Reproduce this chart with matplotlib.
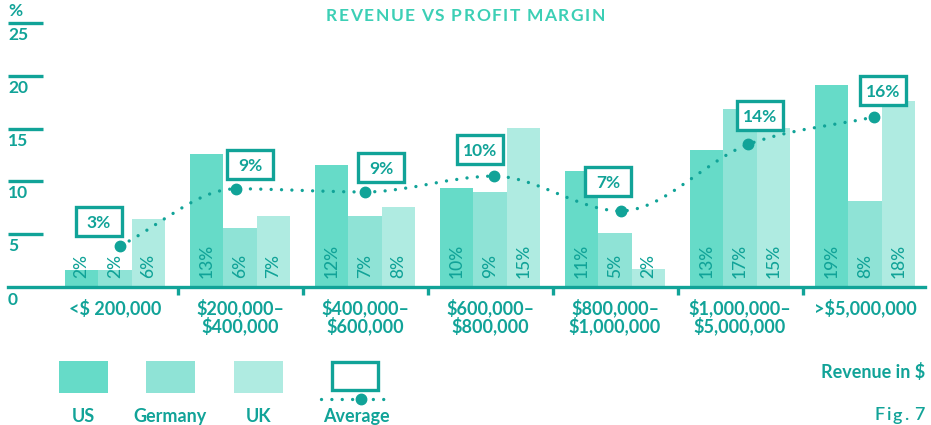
import matplotlib
matplotlib.use("Agg")
import matplotlib.pyplot as plt
from matplotlib.patches import Rectangle, PathPatch
from matplotlib.path import Path
import matplotlib.transforms as mtransforms

plt.rcParams['font.family'] = ['Lato', 'DejaVu Sans']

# data
groups = ['<$ 200,000', '$200,000–\n$400,000', '$400,000–\n$600,000',
          '$600,000–\n$800,000', '$800,000–\n$1,000,000',
          '$1,000,000–\n$5,000,000', '>$5,000,000']
us = [1.6, 12.6, 11.6, 9.4, 11.0, 13.0, 19.1]
germany = [1.6, 5.6, 6.7, 9.0, 5.1, 16.9, 8.1]
uk = [6.4, 6.7, 7.6, 15.1, 1.7, 15.1, 17.6]
us_lbl = [2, 13, 12, 10, 11, 13, 19]
germany_lbl = [2, 6, 7, 9, 5, 17, 8]
uk_lbl = [6, 7, 8, 15, 2, 15, 18]
avg = [3.9, 9.3, 9.0, 10.5, 7.2, 13.5, 16.1]
avg_lbl = [3, 9, 9, 10, 7, 14, 16]
yticks = [5, 10, 15, 20, 25]

# layout tweaks (pixels)
avg_shift = [5, -4, 0, 4, 6, 8, 9]
box_dx = [-21, 14, 16, -14, -13, 12, 9]
box_dy = [24, 24.5, 24.5, 26.5, 29, 29, 26.5]

TEAL = '#11A398'
TITLE = '#3CCFB5'
C_US, C_DE, C_UK = '#66DBC8', '#8FE3D6', '#AFEBE1'

W, H = 931, 425
fig = plt.figure(figsize=(W / 100, H / 100), dpi=100)
ax = fig.add_axes([8 / W, 1 - 287 / H, 917 / W, 264 / H])
ax.set_xlim(-0.856, 6.48)
ax.set_ylim(0, 25)
PX = 125.0      # pixels per x unit
PY = 264 / 25   # pixels per y unit

bw = 0.268
x = list(range(len(groups)))
for vals, lbls, col, off in [(us, us_lbl, C_US, -bw), (germany, germany_lbl, C_DE, 0),
                             (uk, uk_lbl, C_UK, bw)]:
    ax.bar([i + off for i in x], vals, width=bw, color=col, zorder=2)
    for i, (v, l) in enumerate(zip(vals, lbls)):
        ax.text(i + off, 0.85, f'{l}%', rotation=90, ha='center', va='bottom',
                color=TEAL, fontsize=12.5, fontweight='medium', zorder=5)

# smooth dotted average line (monotone cubic drawn as bezier path)
pts = [(i + avg_shift[i] / PX, a) for i, a in enumerate(avg)]
n = len(pts)
sec = [(pts[i + 1][1] - pts[i][1]) / (pts[i + 1][0] - pts[i][0]) for i in range(n - 1)]
tang = [sec[0]]
for i in range(1, n - 1):
    if sec[i - 1] * sec[i] <= 0:
        tang.append(0.0)
    else:
        tang.append((sec[i - 1] + sec[i]) / 2)
tang.append(sec[-1])
verts = [pts[0]]
codes = [Path.MOVETO]
for i in range(n - 1):
    (x0, y0), (x1, y1) = pts[i], pts[i + 1]
    d = (x1 - x0) / 3
    verts += [(x0 + d, y0 + tang[i] * d), (x1 - d, y1 - tang[i + 1] * d), (x1, y1)]
    codes += [Path.CURVE4] * 3
ax.add_patch(PathPatch(Path(verts, codes), fill=False, edgecolor=TEAL, lw=2.4,
                       linestyle=(0, (0.01, 3.1)), capstyle='round', zorder=3))
ax.plot([p[0] for p in pts], avg, 'o', color=TEAL, ms=7.5, zorder=4)

# value boxes
bwid, bhei = 46 / PX, 29 / PY
for i, (p, l) in enumerate(zip(pts, avg_lbl)):
    cx = p[0] + box_dx[i] / PX
    cy = p[1] + box_dy[i] / PY
    ax.add_patch(Rectangle((cx - bwid / 2, cy - bhei / 2), bwid, bhei, facecolor='white',
                           edgecolor=TEAL, lw=2.4, zorder=6))
    ax.text(cx, cy, f'{l}%', ha='center', va='center_baseline', color=TEAL,
            fontsize=12.5, fontweight='bold', zorder=7)

# axes styling
for s in ['top', 'right', 'left']:
    ax.spines[s].set_visible(False)
ax.spines['bottom'].set_color(TEAL)
ax.spines['bottom'].set_linewidth(2.4)
ax.set_yticks([])
ax.set_xticks(x)
ax.set_xticklabels(groups, fontsize=13, fontweight='bold', color=TEAL)
ax.tick_params(axis='x', which='major', length=0, pad=8)
for t in ax.get_xticklabels():
    t.set_linespacing(1.0)
ax.set_xticks([i + 0.5 for i in x[:-1]], minor=True)
ax.tick_params(axis='x', which='minor', length=6, width=2.4, color=TEAL, direction='out')

# y reference marks
trans = mtransforms.blended_transform_factory(ax.transAxes, ax.transData)
for v in yticks:
    ax.plot([0, 35 / 917], [v, v], color=TEAL, lw=2.4, transform=trans, clip_on=False,
            solid_capstyle='butt')
    ax.annotate(str(v), (0, v), xycoords=trans, xytext=(0, -4), textcoords='offset pixels',
                ha='left', va='top', fontsize=12.5, fontweight='bold', color=TEAL)
ax.annotate('0', (0, 0), xycoords=trans, xytext=(0, -5), textcoords='offset pixels',
            ha='left', va='top', fontsize=12.5, fontweight='bold', color=TEAL)
ax.annotate('%', (0, 25), xycoords=trans, xytext=(0, 4), textcoords='offset pixels',
            ha='left', va='bottom', fontsize=12.5, fontweight='bold', color=TEAL)

# overlay in pixel coordinates for title and legend
ov = fig.add_axes([0, 0, 1, 1], zorder=-1)
ov.set_xlim(0, W)
ov.set_ylim(H, 0)
ov.axis('off')
renderer = fig.canvas.get_renderer()


def spaced_text(s, x0, y0, spacing, align, **kw):
    widths = []
    for ch in s:
        t = ov.text(0, 0, ch if ch != ' ' else 'I', **kw)
        widths.append(t.get_window_extent(renderer).width * (0.6 if ch == ' ' else 1))
        t.remove()
    total = sum(widths) + spacing * (len(s) - 1)
    xc = {'center': x0 - total / 2, 'right': x0 - total, 'left': x0}[align]
    for ch, w in zip(s, widths):
        if ch != ' ':
            ov.text(xc, y0, ch, ha='left', va='center_baseline', **kw)
        xc += w + spacing


spaced_text('REVENUE VS PROFIT MARGIN', W / 2, 14, 1.6, 'center',
            fontsize=12.5, fontweight='bold', color=TITLE)

# legend
for (lx, col, name) in [(59, C_US, 'US'), (146, C_DE, 'Germany'), (234, C_UK, 'UK')]:
    ov.add_patch(Rectangle((lx, 361), 49, 32, facecolor=col, edgecolor='none'))
    ov.text(lx + 24.5, 415, name, ha='center', va='center_baseline', fontsize=13,
            fontweight='bold', color=TEAL)
ov.add_patch(Rectangle((332, 362), 46, 28, facecolor='white', edgecolor=TEAL, lw=2.4))
ov.plot([321, 393], [399, 399], color=TEAL, lw=2.4, linestyle=(0, (0.01, 3.1)),
        dash_capstyle='round')
ov.plot([361], [399], 'o', color=TEAL, ms=7.5)
ov.text(356, 415, 'Average', ha='center', va='center_baseline', fontsize=13,
        fontweight='bold', color=TEAL)
ov.text(925, 370, 'Revenue in $', ha='right', va='center_baseline', fontsize=13,
        fontweight='bold', color=TEAL)
spaced_text('Fig. 7', 925, 414, 1.8, 'right', fontsize=13, fontweight='semibold',
            color=TEAL)

fig.savefig('out.png', dpi=100)
